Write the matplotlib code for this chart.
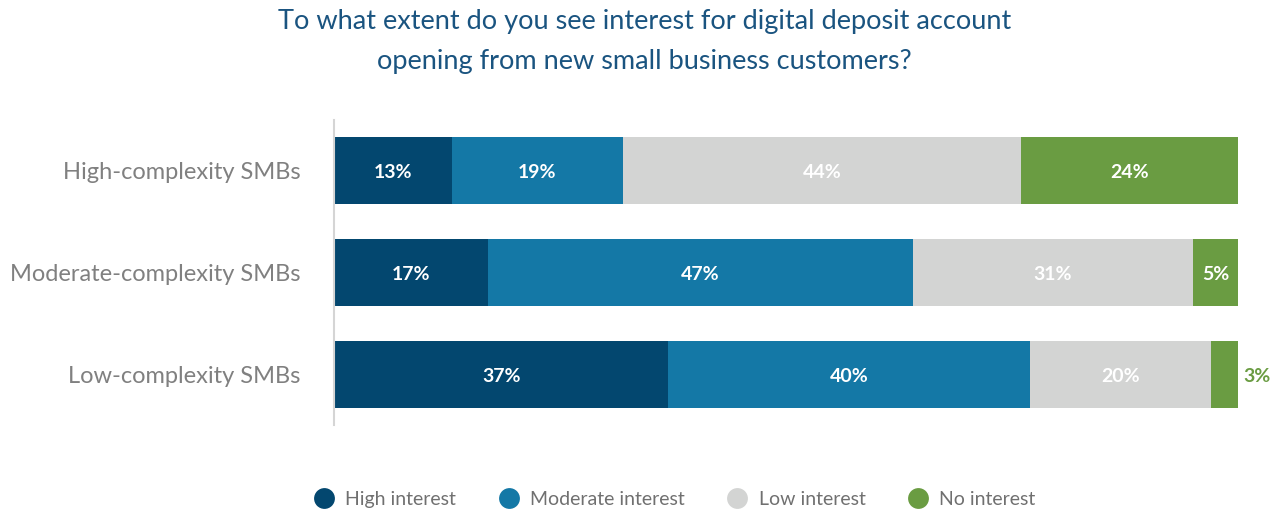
import matplotlib
matplotlib.use("Agg")
import matplotlib.pyplot as plt
from matplotlib.lines import Line2D

# Survey data: share of respondents by interest level for each segment
segments = ["High-complexity SMBs", "Moderate-complexity SMBs", "Low-complexity SMBs"]
series_names = ["High interest", "Moderate interest", "Low interest", "No interest"]
high_interest = [13, 17, 37]
moderate_interest = [19, 47, 40]
low_interest = [44, 31, 20]
no_interest = [24, 5, 3]

colors = ["#03476F", "#1478A6", "#D3D4D3", "#6A9C42"]
title = "To what extent do you see interest for digital deposit account\nopening from new small business customers?"

plt.rcParams["font.family"] = ["Lato", "DejaVu Sans"]

fig = plt.figure(figsize=(12.81, 5.12), dpi=100)
ax = fig.add_axes([334 / 1281, 87 / 512, 904 / 1281, 305 / 512])

series = [high_interest, moderate_interest, low_interest, no_interest]
ypos = list(range(len(segments)))
left = [0] * len(segments)
for name, vals, col in zip(series_names, series, colors):
    ax.barh(ypos, vals, left=left, height=0.66, color=col,
            edgecolor="none", label=name)
    for i, (v, l) in enumerate(zip(vals, left)):
        if v < 4:
            ax.text(l + v + 0.6, i + 0.02, f"{v}%", ha="left", va="center",
                    color=col, fontsize=14, fontweight="bold")
        else:
            ax.text(l + v / 2, i + 0.02, f"{v}%", ha="center", va="center",
                    color="white", fontsize=14, fontweight="bold")
    left = [a + b for a, b in zip(left, vals)]

ax.set_xlim(0, 100)
ax.set_ylim(2.5, -0.5)
ax.set_yticks(ypos)
ax.set_yticklabels(segments, fontsize=17, color="#808080")
ax.tick_params(axis="y", length=0, pad=24)
ax.set_xticks([])
for s in ["top", "right", "bottom"]:
    ax.spines[s].set_visible(False)
ax.spines["left"].set_color("#D5D5D5")
ax.spines["left"].set_linewidth(1.5)

fig.text(0.503, 0.982, title, ha="center", va="top", fontsize=19.5,
         color="#1A5480", linespacing=1.75)

handles = [Line2D([0], [0], marker="o", linestyle="none", markersize=15,
                  markerfacecolor=c, markeredgecolor="none") for c in colors]
fig.legend(handles, series_names, loc="center", bbox_to_anchor=(0.523, 0.025),
           ncol=4, frameon=False, fontsize=14, labelcolor="#707070",
           handletextpad=0.1, columnspacing=1.7)

fig.savefig("out.png", dpi=100, facecolor="white")
